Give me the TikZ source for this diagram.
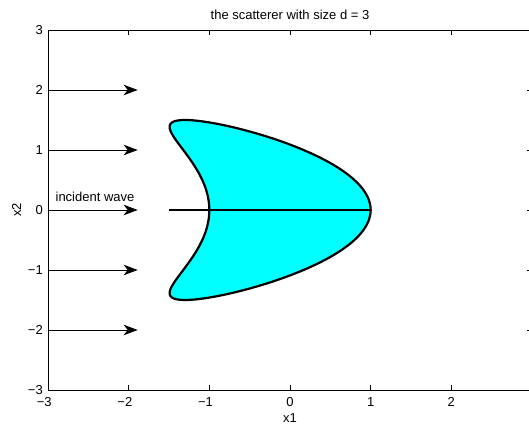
\documentclass[tikz,border=0pt]{standalone}
\usepackage{fontspec}
\setmainfont{Liberation Sans}
\usetikzlibrary{arrows.meta}
\definecolor{aqua}{RGB}{0,255,255}
\begin{document}
\begin{tikzpicture}[x=80.67pt,y=60pt,
  axisline/.style={line width=0.9pt},
  tickmark/.style={line width=0.6pt},
  lbl/.style={inner sep=0pt,font=\fontsize{13}{15}\selectfont},
  wavearrow/.style={line width=0.8pt,-{Stealth[length=14pt,width=10.5pt,inset=4pt]}},
  kiteshape/.style={line width=2.2pt,fill=aqua,draw=black},
  cutline/.style={line width=2.5pt}]
\useasboundingbox (-290pt,-215pt) rectangle (239pt,210pt);
% axes box
\draw[axisline] (-3,-3) rectangle (3,3);
% ticks
\foreach \t in {-2,-1,0,1,2}{
  \draw[tickmark] (\t,-3) -- ++(0,5pt);
  \draw[tickmark] (\t,3) -- ++(0,-5pt);
  \draw[tickmark] (-3,\t) -- ++(5pt,0);
  \draw[tickmark] (3,\t) -- ++(-5pt,0);
}
% x tick labels
\foreach \t/\s in {-3/{\llap{−}3},-2/{\llap{−}2},-1/{\llap{−}1},0/0,1/1,2/2}{
  \node[lbl,anchor=north] (xt\t) at ([yshift=-7pt]\t,-3) {\s};
}
% y tick labels
\foreach \t/\s in {-3/−3,-2/−2,-1/−1,0/0,1/1,2/2,3/3}{
  \node[lbl,anchor=east] (yt\t) at ([xshift=-5pt]-3,\t) {\s};
}
% axis labels and title
\node[lbl] (xlab) at ([yshift=-28pt]0,-3) {x1};
\node[lbl,rotate=90] (ylab) at ([xshift=-31.3pt]-3,0) {x2};
\node[lbl] (title) at ([yshift=15.5pt]0,3) {the scatterer with size d = 3};
% kite scatterer
\draw[kiteshape] plot[domain=0:360,samples=240,smooth,variable=\u]
  ({cos(\u)+0.65*cos(2*\u)-0.65},{1.5*sin(\u)}) -- cycle;
\coordinate (cutL) at (-1.5,0);
\coordinate (cutR) at (1,0);
\draw[cutline] (cutL) -- (cutR);
% incident wave arrows
\foreach \y in {-2,-1,0,1,2}{
  \coordinate (ws\y) at (-3,\y);
  \coordinate (we\y) at (-1.888,\y);
  \draw[wavearrow] (ws\y) -- (we\y);
}
\node[lbl] (inc) at (-2.417,0.22) {incident wave};
\end{tikzpicture}
\end{document}
